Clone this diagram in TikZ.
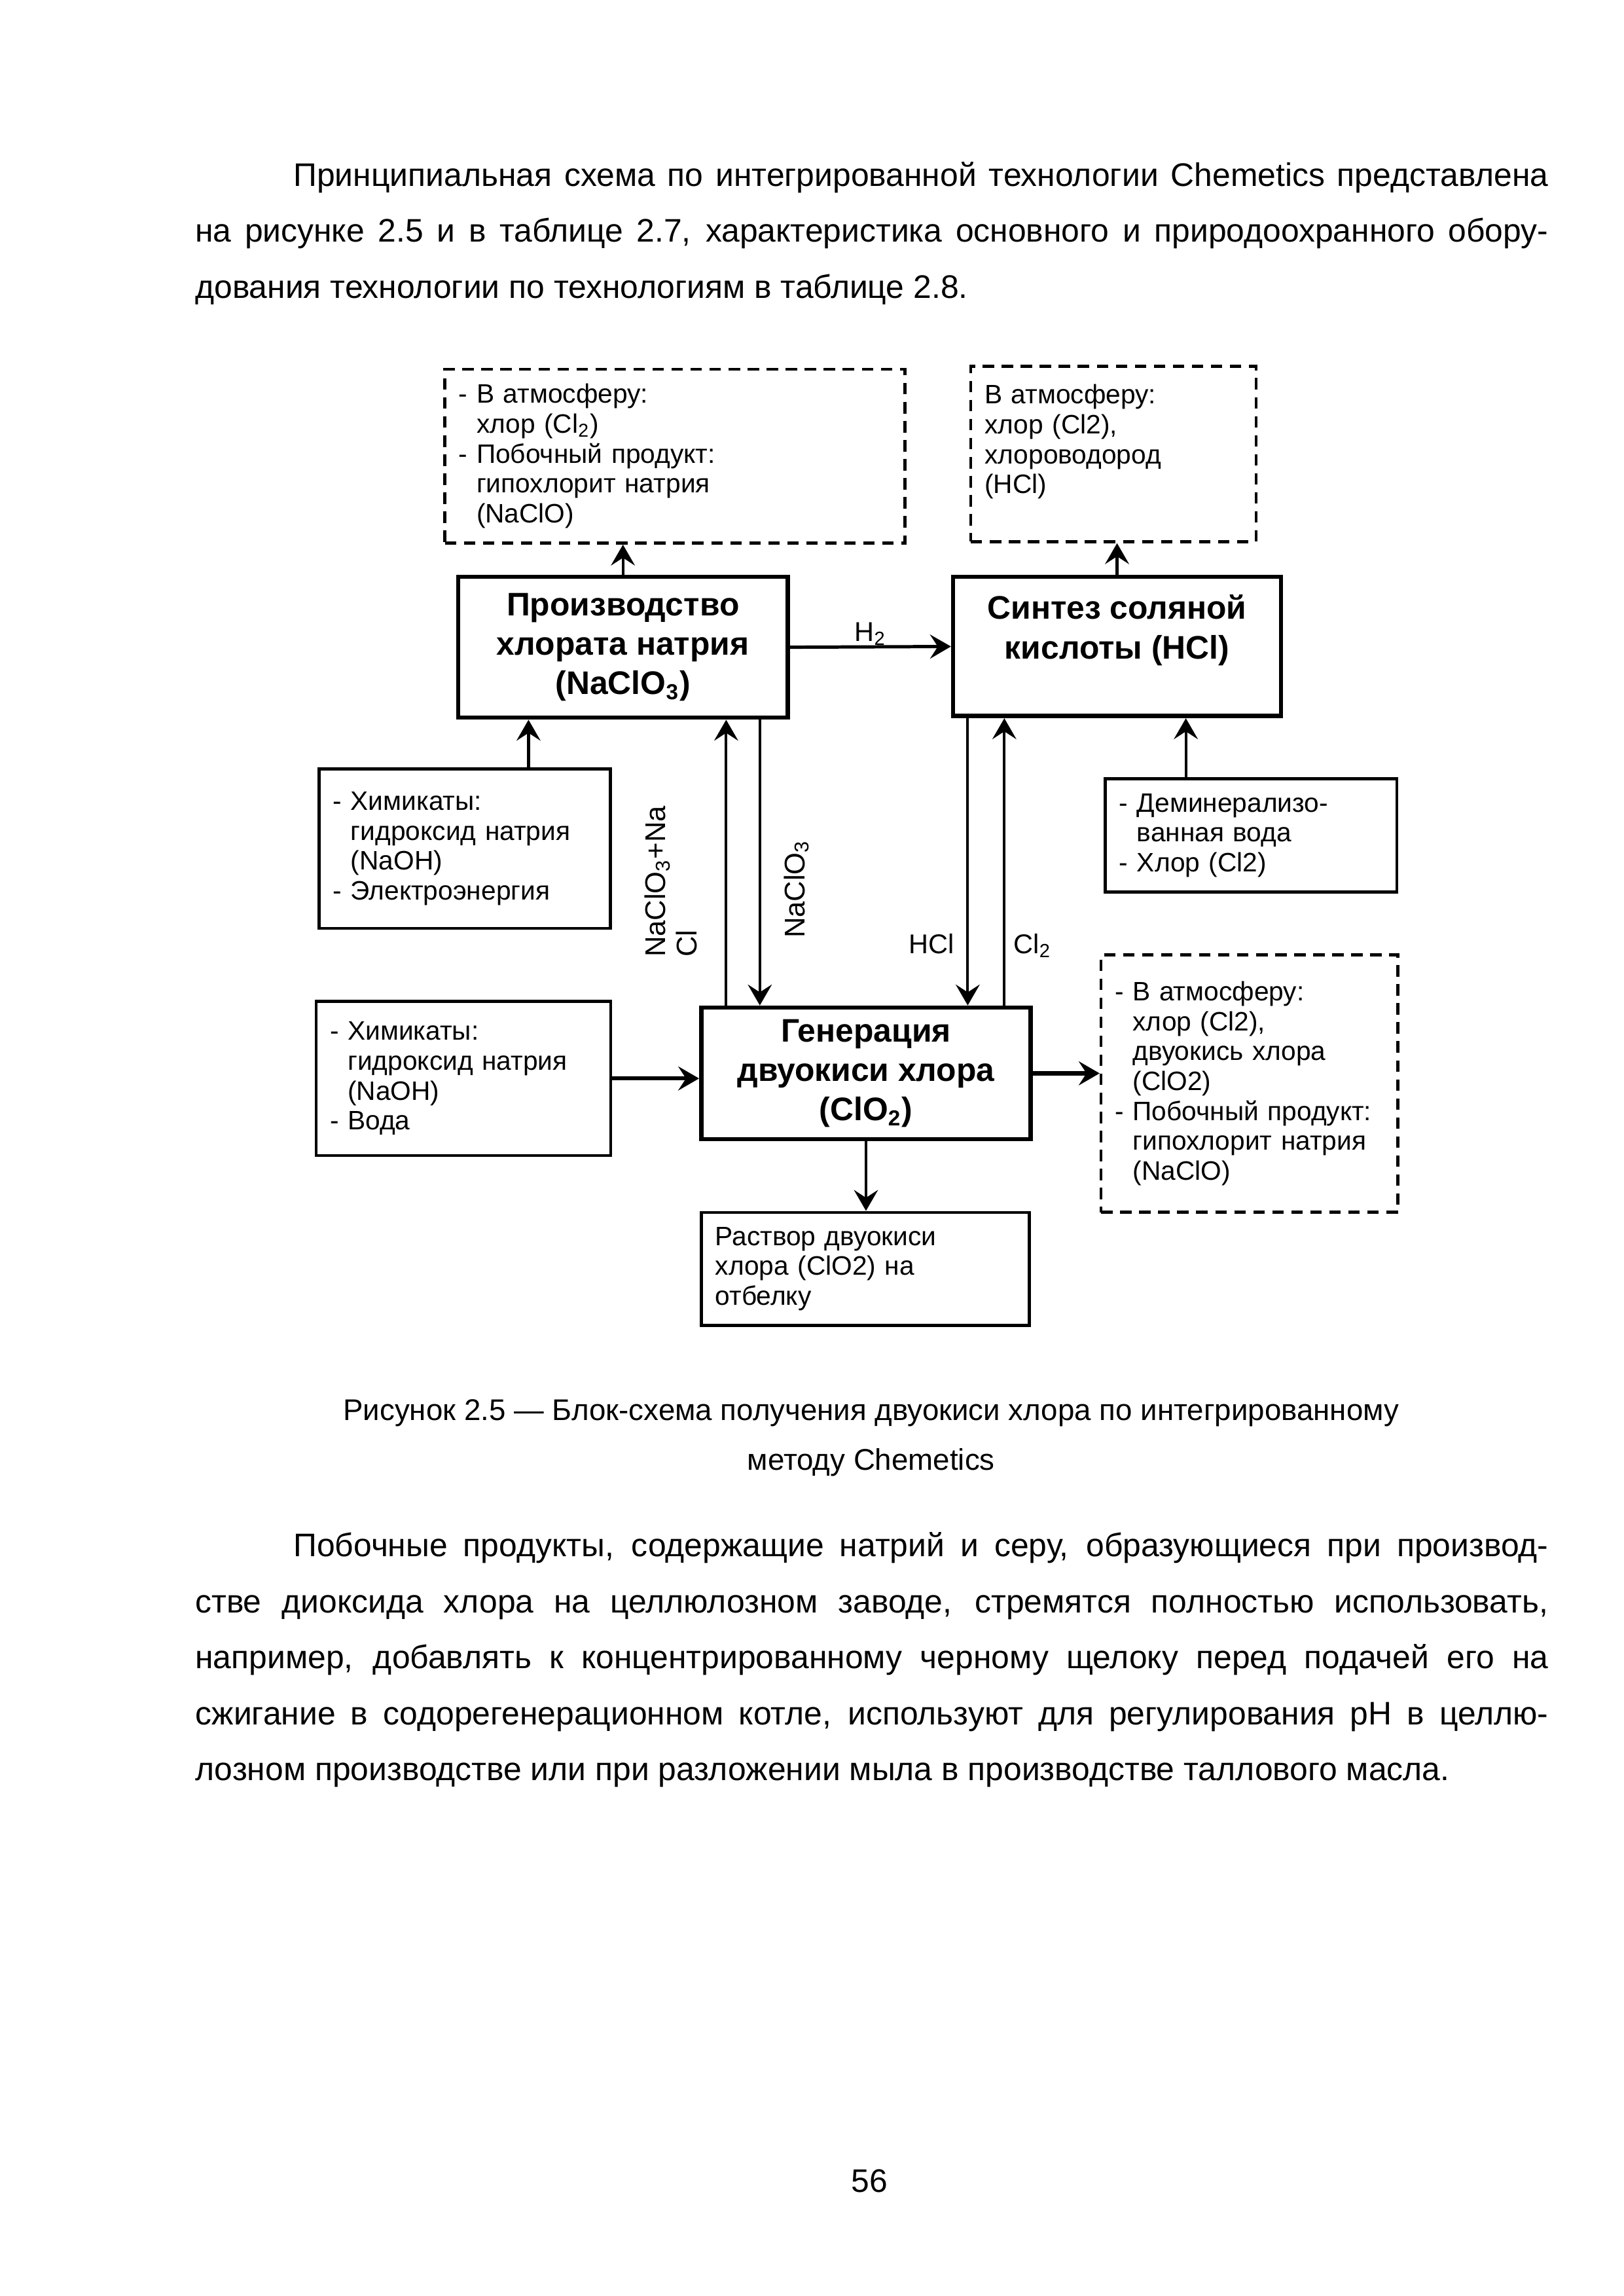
\documentclass[tikz,border=0pt]{standalone}
\usepackage{fontspec}
\setmainfont{Liberation Sans}
\usetikzlibrary{arrows.meta, positioning, calc}

\newcommand{\hang}{\hphantom{- }}

\begin{document}
\begin{tikzpicture}[x=0.18936mm,y=-0.18936mm,
  every node/.style={font=\fontsize{9.8}{11}\selectfont},
  textbox/.style={draw, line width=1.1pt, inner xsep=1.8mm, inner ysep=0pt, align=left},
  atmbox/.style={textbox, dash pattern=on 4.2pt off 2.8pt},
  mainbox/.style={draw, line width=1.6pt, align=center, font=\fontsize{12}{14.5}\selectfont\bfseries},
  arr/.style={-{Stealth[length=2.7mm,width=3.1mm,inset=1mm]}, line width=1pt},
  thickarr/.style={arr, line width=1.5pt},
  lbl/.style={font=\fontsize{10}{11}\selectfont, inner sep=0pt},
  para/.style={font=\fontsize{12}{20.6}\selectfont, text width=17.5cm, inner sep=0pt, align=justify}]
  \useasboundingbox (0,0) rectangle (1109,1568);

  % page text
  \node[para, anchor=base west] (introtext) at (133,127) {%
    \hspace*{12.7mm}Принципиальная схема по интегрированной технологии Chemetics представлена\linebreak
    на рисунке 2.5 и в таблице 2.7, характеристика основного и природоохранного обору-\linebreak
    дования технологии по технологиям в таблице 2.8.};

  % emissions
  \node[atmbox, text width=55.9mm, minimum height=22.5mm] (atmA) at (461,311.5)
    {- В атмосферу:\\\hang хлор (Cl\textsubscript{2})\\- Побочный продукт:\\\hang гипохлорит натрия\\\hang (NaClO)};
  \node[atmbox, text width=33.3mm, minimum height=22.7mm] (atmB) at (760.5,310)
    {В атмосферу:\\хлор (Cl2),\\хлороводород\\(HCl)\\ \mbox{}};
  \node[atmbox, text width=34.8mm, minimum height=33.3mm] (atmC) at (853.5,740)
    {- В атмосферу:\\\hang хлор (Cl2),\\\hang двуокись хлора\\\hang (ClO2)\\- Побочный продукт:\\\hang гипохлорит натрия\\\hang (NaClO)};

  % main units
  \node[mainbox, minimum width=42.6mm, minimum height=18.2mm] (prod) at (425.5,442)
    {Производство\\хлората натрия\\(NaClO\textsubscript{3})};
  \node[mainbox, minimum width=42.4mm, minimum height=18mm] (synth) at (763,441.5)
    {Синтез соляной\\кислоты (HCl)\\ \mbox{}};
  \node[mainbox, minimum width=42.6mm, minimum height=17mm] (gen) at (591.5,733)
    {Генерация\\двуокиси хлора\\(ClO\textsubscript{2})};

  % inputs and product
  \node[textbox, text width=34.1mm, minimum height=20.6mm] (chemA) at (317.5,579.5)
    {- Химикаты:\\\hang гидроксид натрия\\\hang (NaOH)\\- Электроэнергия};
  \node[textbox, text width=34.1mm, minimum height=14.6mm] (demin) at (854.5,570.5)
    {- Деминерализо-\\\hang ванная вода\\- Хлор (Cl2)};
  \node[textbox, text width=34.5mm, minimum height=19.9mm] (chemB) at (316.5,736.5)
    {- Химикаты:\\\hang гидроксид натрия\\\hang (NaOH)\\- Вода};
  \node[textbox, text width=38.8mm, minimum height=14.6mm] (sol) at (591,866.5)
    {Раствор двуокиси\\хлора (ClO2) на\\отбелку};

  % arrow columns
  \coordinate (xA) at (361,0);
  \coordinate (xB) at (496,0);
  \coordinate (xC) at (519,0);
  \coordinate (xD) at (661,0);
  \coordinate (xE) at (686,0);
  \coordinate (xF) at (810,0);

  \draw[arr] (prod.north) -- (prod.north |- atmA.south);
  \draw[arr] (synth.north) -- (synth.north |- atmB.south);
  \draw[arr] (chemA.north -| xA) -- (prod.south -| xA);
  \draw[arr] (demin.north -| xF) -- (synth.south -| xF);
  \draw[arr, line width=1.2pt] (prod.east) -- (synth.west) node[lbl, midway, above] (h2lbl) {H\textsubscript{2}};
  \draw[arr] (gen.north -| xB) -- (prod.south -| xB);
  \draw[arr] (prod.south -| xC) -- (gen.north -| xC);
  \draw[arr] (synth.south -| xD) -- (gen.north -| xD);
  \draw[arr] (gen.north -| xE) -- (synth.south -| xE);
  \draw[thickarr] (chemB.east) -- (chemB.east -| gen.west);
  \draw[thickarr] (gen.east) -- (gen.east -| atmC.west);
  \draw[arr] (gen.south) -- (gen.south |- sol.north);

  \node[lbl, font=\fontsize{10.5}{11.5}\selectfont, rotate=90, align=left, anchor=north west] (mixlbl) at (440,654)
    {NaClO\textsubscript{3}+Na\\Cl};
  \node[lbl, font=\fontsize{10.5}{11.5}\selectfont, rotate=90, anchor=north west] (chlbl) at (535,641) {NaClO\textsubscript{3}};
  \node[lbl, anchor=base east] (hcllbl) at (652,651) {HCl};
  \node[lbl, anchor=base west] (cl2lbl) at (692,651) {Cl\textsubscript{2}};

  % caption
  \node[font=\fontsize{11}{18.3}\selectfont, align=center, anchor=base] (caption) at (595,1004)
    {Рисунок 2.5 — Блок-схема получения двуокиси хлора по интегрированному\\методу Chemetics};

  \node[para, anchor=base west] (bodytext) at (133,1063) {%
    \hspace*{12.7mm}Побочные продукты, содержащие натрий и серу, образующиеся при производ-\linebreak
    стве диоксида хлора на целлюлозном заводе, стремятся полностью использовать,\linebreak
    например, добавлять к концентрированному черному щелоку перед подачей его на\linebreak
    сжигание в содорегенерационном котле, используют для регулирования pH в целлю-\linebreak
    лозном производстве или при разложении мыла в производстве таллового масла.};

  \node[font=\fontsize{12}{14}\selectfont, anchor=base] (pagenum) at (594,1497) {56};
\end{tikzpicture}
\end{document}
